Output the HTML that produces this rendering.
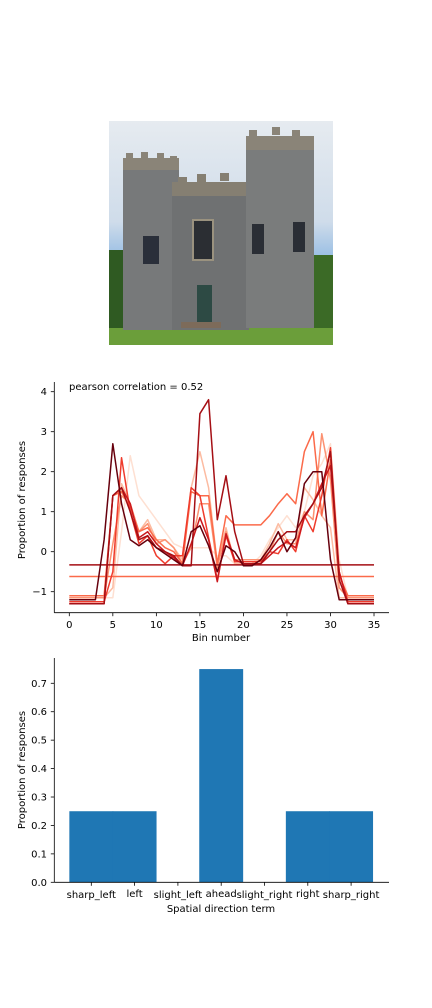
<!DOCTYPE html>
<html><head><meta charset="utf-8">
<style>
body{margin:0;background:#fff;width:432px;height:1008px;overflow:hidden;font-family:"DejaVu Sans","Liberation Sans",sans-serif;}
svg{position:absolute;left:0;top:0}
text{font-family:"DejaVu Sans","Liberation Sans",sans-serif;font-size:10px;fill:#000}
</style></head>
<body>
<svg width="432" height="1008">
<g>
 <defs><linearGradient id="sky" x1="0" y1="0" x2="0" y2="1"><stop offset="0" stop-color="#e6ebf0"/><stop offset="0.45" stop-color="#cfdcea"/><stop offset="0.6" stop-color="#9cc0e4"/><stop offset="1" stop-color="#8fb8e0"/></linearGradient></defs>
 <rect x="109" y="121" width="224" height="224" fill="url(#sky)"/>
 <rect x="109" y="250" width="20" height="80" fill="#2f5a22"/>
 <rect x="312" y="255" width="21" height="75" fill="#3b6a26"/>
 <rect x="109" y="328" width="224" height="17" fill="#6b9e3a"/>
 <rect x="123" y="165" width="56" height="165" fill="#77797a"/>
 <rect x="123" y="158" width="56" height="12" fill="#8a8478"/>
 <rect x="126" y="153" width="7" height="7" fill="#8a8478"/><rect x="141" y="152" width="7" height="7" fill="#8a8478"/><rect x="157" y="153" width="7" height="7" fill="#8a8478"/><rect x="170" y="156" width="7" height="6" fill="#8a8478"/>
 <rect x="172" y="192" width="77" height="138" fill="#6f7172"/>
 <rect x="172" y="182" width="77" height="14" fill="#857f72"/>
 <rect x="178" y="177" width="9" height="7" fill="#857f72"/><rect x="197" y="174" width="9" height="8" fill="#857f72"/><rect x="220" y="173" width="9" height="8" fill="#857f72"/>
 <rect x="246" y="148" width="68" height="180" fill="#7a7c7c"/>
 <rect x="246" y="136" width="68" height="14" fill="#8a8478"/>
 <rect x="249" y="130" width="8" height="7" fill="#8a8478"/><rect x="272" y="127" width="8" height="8" fill="#8a8478"/><rect x="292" y="130" width="8" height="7" fill="#8a8478"/>
 <rect x="143" y="236" width="16" height="28" fill="#2a2f3a"/>
 <rect x="193" y="220" width="20" height="40" fill="#2b2e33" stroke="#9a927f" stroke-width="2"/>
 <rect x="252" y="224" width="12" height="30" fill="#2a2e35"/>
 <rect x="293" y="222" width="12" height="30" fill="#2a2e35"/>
 <rect x="197" y="285" width="15" height="38" fill="#2d4a44"/>
 <rect x="181" y="322" width="40" height="6" fill="#7d6b5a"/>
</g>

<g id="lc"></g>
<g id="bc"></g>
</svg>
<script>
const NS="http://www.w3.org/2000/svg";
function mk(parent,tag,attrs,txt){const e=document.createElementNS(NS,tag);for(const k in attrs)e.setAttribute(k,attrs[k]);if(txt!==undefined)e.textContent=txt;parent.appendChild(e);return e;}

// ---- line chart data ----
const bins=[...Array(36).keys()];
const xTicks=[0,5,10,15,20,25,30,35];
const yTicks=[-1,0,1,2,3,4];
const seriesColors=["#fee0d2","#fcbba1","#fc9272","#fb6a4a","#fb6a4a","#ef3b2c","#cb181d","#a50f15","#a50f15","#67000d"];
const s0=[-1.15,-1.15,-1.15,-1.15,-1.15,-1.15,0.5,2.4,1.4,1.1,0.8,0.5,0.2,0.1,0.1,0.1,0.1,-0.1,-0.1,-0.3,-0.3,-0.3,-0.1,0.3,0.6,0.9,0.6,1.0,1.9,2.2,2.7,-0.2,-1.15,-1.15,-1.15,-1.15];
const s1=[-1.15,-1.15,-1.15,-1.15,-1.15,-0.9,1.7,1.2,0.5,0.8,0.3,0.3,0.1,-0.2,1.6,2.5,1.6,-0.3,0.6,-0.3,-0.3,-0.3,-0.2,0.2,0.7,0.3,0.3,1.6,1.3,0.9,0.6,-1.15,-1.15,-1.15,-1.15,-1.15];
const s2=[-1.15,-1.15,-1.15,-1.15,-1.15,0.2,1.4,1.2,0.5,0.7,0.2,0.3,0.1,-0.3,0.1,1.2,1.2,-0.4,0.5,-0.2,-0.2,-0.2,-0.2,0.0,0.5,0.2,0.2,1.0,0.8,2.95,1.8,-0.9,-1.15,-1.15,-1.15,-1.15];
const s3=[-0.62,-0.62,-0.62,-0.62,-0.62,-0.62,-0.62,-0.62,-0.62,-0.62,-0.62,-0.62,-0.62,-0.62,-0.62,-0.62,-0.62,-0.62,-0.62,-0.62,-0.62,-0.62,-0.62,-0.62,-0.62,-0.62,-0.62,-0.62,-0.62,-0.62,-0.62,-0.62,-0.62,-0.62,-0.62,-0.62];
const s4=[-1.1,-1.1,-1.1,-1.1,-1.1,1.4,1.5,1.1,0.5,0.6,0.3,0.1,0.0,-0.3,1.5,1.4,1.4,-0.3,0.9,0.67,0.67,0.67,0.67,0.9,1.2,1.45,1.2,2.5,3.0,0.9,2.3,-0.6,-1.1,-1.1,-1.1,-1.1];
const s5=[-1.25,-1.25,-1.25,-1.25,-1.25,-0.5,2.35,1.0,0.2,0.4,-0.1,-0.3,-0.1,-0.1,1.6,1.4,0.35,-0.7,0.4,-0.25,-0.25,-0.25,-0.25,0.0,-0.05,0.3,0.0,0.9,0.5,1.4,2.6,-0.5,-1.25,-1.25,-1.25,-1.25];
const s6=[-1.3,-1.3,-1.3,-1.3,-1.3,1.4,1.6,1.2,0.35,0.5,0.2,0.0,-0.15,-0.35,0.2,0.85,0.3,-0.75,0.45,-0.2,-0.3,-0.3,-0.3,-0.1,0.1,0.25,0.1,0.85,1.2,1.7,2.15,-0.5,-1.3,-1.3,-1.3,-1.3];
const s7=[-0.33,-0.33,-0.33,-0.33,-0.33,-0.33,-0.33,-0.33,-0.33,-0.33,-0.33,-0.33,-0.33,-0.33,-0.33,-0.33,-0.33,-0.33,-0.33,-0.33,-0.33,-0.33,-0.33,-0.33,-0.33,-0.33,-0.33,-0.33,-0.33,-0.33,-0.33,-0.33,-0.33,-0.33,-0.33,-0.33];
const s8=[-1.3,-1.3,-1.3,-1.3,-1.3,1.4,1.6,1.0,0.3,0.4,0.1,0.0,-0.1,-0.35,-0.35,3.45,3.8,0.8,1.9,0.5,-0.3,-0.3,-0.3,0.0,0.3,0.5,0.5,0.9,1.2,1.6,2.5,-0.7,-1.3,-1.3,-1.3,-1.3];
const s9=[-1.2,-1.2,-1.2,-1.2,0.3,2.7,1.2,0.3,0.15,0.3,0.1,-0.05,-0.2,-0.35,0.5,0.65,0.15,-0.5,0.15,0.0,-0.35,-0.35,-0.2,0.1,0.5,0.0,0.35,1.7,2.0,2.0,-0.2,-1.2,-1.2,-1.2,-1.2,-1.2];
const allSeries=[s0,s1,s2,s3,s4,s5,s6,s7,s8,s9];

const LX0=69.3,LXS=8.706,LY0=551.7,LYS=40;
const lx=v=>LX0+v*LXS, ly=v=>LY0-v*LYS;
const lc=document.getElementById('lc');
allSeries.forEach((s,i)=>{
  const p=mk(lc,'polyline',{points:s.map((v,j)=>lx(bins[j])+','+ly(v)).join(' '),fill:'none',stroke:seriesColors[i],'stroke-width':1.5,'stroke-linejoin':'round'});
  
  
});
let e;
e=mk(lc,'line',{x1:54.3,y1:382,x2:54.3,y2:612.7,stroke:'#000','stroke-width':0.8});

e=mk(lc,'line',{x1:54.3,y1:612.7,x2:389,y2:612.7,stroke:'#000','stroke-width':0.8});

xTicks.forEach(t=>{mk(lc,'line',{x1:lx(t),x2:lx(t),y1:612.7,y2:616.2,stroke:'#000','stroke-width':0.8});
  e=mk(lc,'text',{x:lx(t),y:628,'text-anchor':'middle'},String(t));
  });
yTicks.forEach(t=>{mk(lc,'line',{x1:50.8,x2:54.3,y1:ly(t),y2:ly(t),stroke:'#000','stroke-width':0.8});
  e=mk(lc,'text',{x:47,y:ly(t)+3.5,'text-anchor':'end'},t<0?'\u2212'+(-t):String(t));
  });
e=mk(lc,'text',{x:221,y:641,'text-anchor':'middle'},'Bin number');

e=mk(lc,'text',{x:0,y:0,'text-anchor':'middle',transform:'translate(25,500) rotate(-90)'},'Proportion of responses');

e=mk(lc,'text',{x:69,y:390},'pearson correlation = 0.52');


// ---- bar chart data ----
const categories=["sharp_left","left","slight_left","ahead","slight_right","right","sharp_right"];
const barValues=[0.25,0.25,0,0.75,0,0.25,0.25];
const barTicks=[0.0,0.1,0.2,0.3,0.4,0.5,0.6,0.7];
const BX0=91.3,BXS=43.3,BY0=882.3,BYS=284.3;
const bx=i=>BX0+i*BXS, by=v=>BY0-v*BYS;
const bc=document.getElementById('bc');
barValues.forEach((v,i)=>{
  const r=mk(bc,'rect',{x:bx(i)-BXS/2-0.3,y:by(v),width:BXS+0.6,height:BY0-by(v),fill:'#1f77b4'});
  
  
});
e=mk(bc,'line',{x1:54.3,y1:658,x2:54.3,y2:882.3,stroke:'#000','stroke-width':0.8});

e=mk(bc,'line',{x1:54.3,y1:882.3,x2:389,y2:882.3,stroke:'#000','stroke-width':0.8});

categories.forEach((c,i)=>{mk(bc,'line',{x1:bx(i),x2:bx(i),y1:882.3,y2:885.8,stroke:'#000','stroke-width':0.8});
  e=mk(bc,'text',{x:bx(i),y:i%2?897:898,'text-anchor':'middle'},c);
  });
barTicks.forEach(t=>{mk(bc,'line',{x1:50.8,x2:54.3,y1:by(t),y2:by(t),stroke:'#000','stroke-width':0.8});
  e=mk(bc,'text',{x:47,y:by(t)+3.5,'text-anchor':'end'},t.toFixed(1));
  });
e=mk(bc,'text',{x:221,y:912,'text-anchor':'middle'},'Spatial direction term');

e=mk(bc,'text',{x:0,y:0,'text-anchor':'middle',transform:'translate(25,770) rotate(-90)'},'Proportion of responses');

</script>
</body></html>
